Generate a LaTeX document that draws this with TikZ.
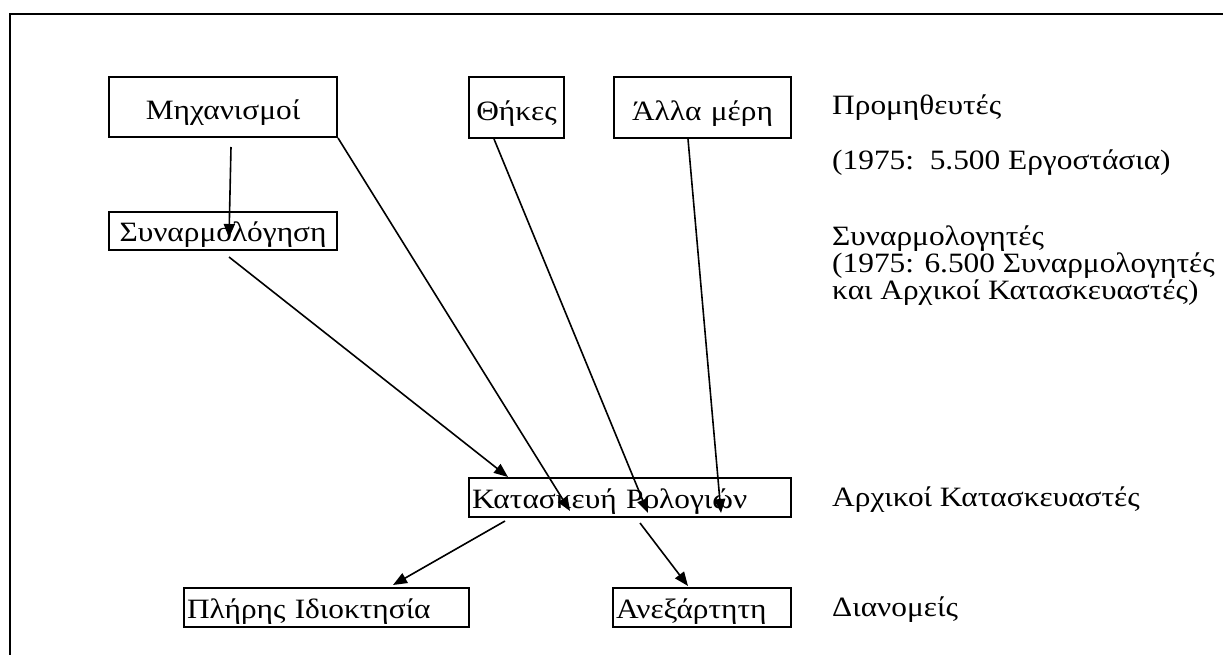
\documentclass[tikz,border=0pt]{standalone}
\usepackage{fontspec}
\setmainfont{Liberation Serif}[FakeStretch=1.12]
\usetikzlibrary{arrows.meta,calc}
\begin{document}
\begin{tikzpicture}[x=1pt,y=-1pt,
  box/.style={draw,line width=2pt,anchor=north west,inner ysep=0pt,text height=24pt,text depth=3pt},
  tbox/.style={box,text height=28pt,text depth=2pt},
  cbox/.style={inner xsep=0pt,align=center},
  lbox/.style={inner xsep=3pt,align=left},
  arr/.style={line width=1.6pt,-{Triangle[length=14pt,width=11pt]}},
  lbl/.style={anchor=base west,inner sep=0pt},
  font=\fontsize{28}{30}\selectfont]
\useasboundingbox (0,0) rectangle (1223,655);
\draw[line width=2.2pt] (10,655) -- (10,14) -- (1223,14);
% boxes
\node[tbox,cbox,text width=228pt,minimum height=60pt] (mech) at (108,76) {Μηχανισμοί};
\node[box,cbox,text width=228pt,minimum height=38pt] (asm) at (108,211) {Συναρμολόγηση};
\node[tbox,cbox,text width=95pt,minimum height=61pt] (cases) at (468,76) {Θήκες};
\node[tbox,cbox,text width=177pt,minimum height=61pt] (other) at (613,76) {Άλλα μέρη};
\node[box,lbox,text width=316pt,minimum height=39pt] (watch) at (468,477) {Κατασκευή Ρολογιών};
\node[box,lbox,text width=279pt,minimum height=39pt] (full) at (183,587) {Πλήρης Ιδιοκτησία};
\node[box,lbox,text width=172pt,minimum height=39pt] (indep) at (612,587) {Ανεξάρτητη};
% right labels
\node[lbl] (l1) at (832,115) {Προμηθευτές};
\node[lbl] (l2) at (832,170) {(1975:\ \ 5.500 Εργοστάσια)};
\node[lbl] (l3) at (832,245) {Συναρμολογητές};
\node[lbl] (l4) at (832,272) {(1975: 6.500 Συναρμολογητές};
\node[lbl] (l5) at (832,299) {και Αρχικοί Κατασκευαστές)};
\node[lbl] (l6) at (832,506) {Αρχικοί Κατασκευαστές};
\node[lbl] (l7) at (832,616) {Διανομείς};
% arrows
\draw[arr] ($(mech.south west)+(123,9)$) -- ($(asm.north west)+(121,27)$);
\draw[arr] (mech.south east) -- ($(watch.north west)+(102,34)$);
\draw[arr] ($(cases.south west)+(26,0)$) -- ($(watch.north west)+(180,36)$);
\draw[arr] ($(other.south west)+(75,0)$) -- ($(watch.north west)+(253,36)$);
\draw[arr] ($(asm.south west)+(121,6)$) -- ($(watch.north west)+(40,0)$);
\draw[arr] ($(watch.south west)+(37,3)$) -- ($(full.north west)+(210,-2)$);
\draw[arr] ($(watch.south west)+(172,5)$) -- ($(indep.north west)+(76,-1)$);
\end{tikzpicture}
\end{document}
